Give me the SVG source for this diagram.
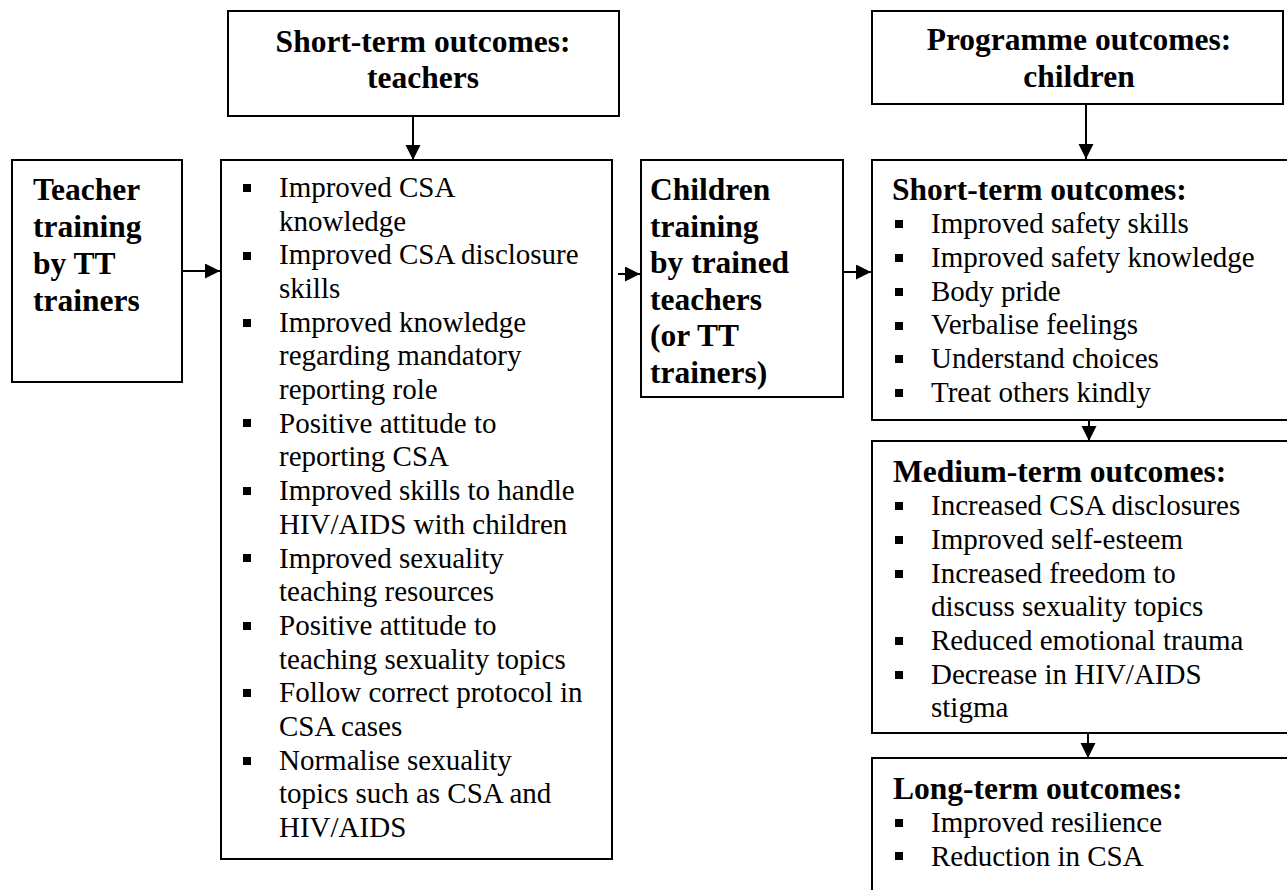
<svg xmlns="http://www.w3.org/2000/svg" width="1287" height="890" viewBox="0 0 1287 890">
<defs>
<style>
.box{fill:#fff;stroke:#000;stroke-width:2}
.h{font-family:"Liberation Serif","Times New Roman",serif;font-weight:bold;font-size:31.5px;fill:#000}
.b{font-family:"Liberation Serif","Times New Roman",serif;font-size:29px;fill:#000}
.c{text-anchor:middle}
.bul{fill:#000}
.con{stroke:#000;stroke-width:2;fill:none;marker-end:url(#ah)}
</style>
<marker id="ah" markerUnits="userSpaceOnUse" markerWidth="16" markerHeight="16" refX="15" refY="7.5" orient="auto">
<path d="M0,0 L15,7.5 L0,15 z" fill="#000"/>
</marker>
</defs>
<rect width="1287" height="890" fill="#fff"/>

<g id="connectors">
<line class="con" x1="182" y1="271" x2="220" y2="271"/>
<line class="con" x1="618" y1="274" x2="640" y2="274"/>
<line class="con" x1="843" y1="272" x2="871" y2="272"/>
<line class="con" x1="413" y1="116" x2="413" y2="160"/>
<line class="con" x1="1086" y1="104" x2="1086" y2="159"/>
<line class="con" x1="1089" y1="420" x2="1089" y2="441"/>
<line class="con" x1="1088" y1="733" x2="1088" y2="758"/>
</g>

<g id="teacher-training">
<rect class="box" x="12" y="160" width="170" height="222"/>
<text class="h" x="33" y="200">Teacher</text>
<text class="h" x="33" y="237">training</text>
<text class="h" x="33" y="274">by TT</text>
<text class="h" x="33" y="311">trainers</text>
</g>

<g id="short-term-teachers-header">
<rect class="box" x="228" y="11" width="391" height="105"/>
<text class="h c" x="423" y="52">Short-term outcomes:</text>
<text class="h c" x="423" y="88">teachers</text>
</g>

<g id="teacher-outcomes">
<rect class="box" x="221" y="160" width="391" height="699"/>
<g class="bul">
<rect x="243" y="184" width="8" height="8"/>
<rect x="243" y="252" width="8" height="8"/>
<rect x="243" y="319" width="8" height="8"/>
<rect x="243" y="419" width="8" height="8"/>
<rect x="243" y="487" width="8" height="8"/>
<rect x="243" y="554" width="8" height="8"/>
<rect x="243" y="622" width="8" height="8"/>
<rect x="243" y="689" width="8" height="8"/>
<rect x="243" y="757" width="8" height="8"/>
</g>
<text class="b" x="279">
<tspan x="279" y="197">Improved CSA</tspan>
<tspan x="279" y="230.7">knowledge</tspan>
<tspan x="279" y="264.4">Improved CSA disclosure</tspan>
<tspan x="279" y="298.1">skills</tspan>
<tspan x="279" y="331.7">Improved knowledge</tspan>
<tspan x="279" y="365.4">regarding mandatory</tspan>
<tspan x="279" y="399.1">reporting role</tspan>
<tspan x="279" y="432.8">Positive attitude to</tspan>
<tspan x="279" y="466.4">reporting CSA</tspan>
<tspan x="279" y="500.1">Improved skills to handle</tspan>
<tspan x="279" y="533.8">HIV/AIDS with children</tspan>
<tspan x="279" y="567.5">Improved sexuality</tspan>
<tspan x="279" y="601.2">teaching resources</tspan>
<tspan x="279" y="634.8">Positive attitude to</tspan>
<tspan x="279" y="668.5">teaching sexuality topics</tspan>
<tspan x="279" y="702.2">Follow correct protocol in</tspan>
<tspan x="279" y="735.9">CSA cases</tspan>
<tspan x="279" y="769.6">Normalise sexuality</tspan>
<tspan x="279" y="803.3">topics such as CSA and</tspan>
<tspan x="279" y="837">HIV/AIDS</tspan>
</text>
</g>

<g id="children-training">
<rect class="box" x="641" y="160" width="202" height="237"/>
<text class="h" x="650" y="200">Children</text>
<text class="h" x="650" y="236.5">training</text>
<text class="h" x="650" y="273">by trained</text>
<text class="h" x="650" y="309.5">teachers</text>
<text class="h" x="650" y="346">(or TT</text>
<text class="h" x="650" y="382.5">trainers)</text>
</g>

<g id="programme-outcomes-header">
<rect class="box" x="872" y="11" width="411" height="93"/>
<text class="h c" x="1079" y="50">Programme outcomes:</text>
<text class="h c" x="1079" y="87">children</text>
</g>

<g id="short-term-children">
<rect class="box" x="872" y="160" width="416" height="260"/>
<text class="h" x="892" y="199.5">Short-term outcomes:</text>
<g class="bul">
<rect x="895" y="220" width="8" height="8"/>
<rect x="895" y="254" width="8" height="8"/>
<rect x="895" y="288" width="8" height="8"/>
<rect x="895" y="322" width="8" height="8"/>
<rect x="895" y="355" width="8" height="8"/>
<rect x="895" y="389" width="8" height="8"/>
</g>
<text class="b">
<tspan x="931" y="233.3">Improved safety skills</tspan>
<tspan x="931" y="267">Improved safety knowledge</tspan>
<tspan x="931" y="300.7">Body pride</tspan>
<tspan x="931" y="334.4">Verbalise feelings</tspan>
<tspan x="931" y="368.1">Understand choices</tspan>
<tspan x="931" y="401.8">Treat others kindly</tspan>
</text>
</g>

<g id="medium-term-children">
<rect class="box" x="872" y="441" width="416" height="292"/>
<text class="h" x="893" y="481.5">Medium-term outcomes:</text>
<g class="bul">
<rect x="895" y="502" width="8" height="8"/>
<rect x="895" y="536" width="8" height="8"/>
<rect x="895" y="570" width="8" height="8"/>
<rect x="895" y="637" width="8" height="8"/>
<rect x="895" y="671" width="8" height="8"/>
</g>
<text class="b">
<tspan x="931" y="515.2">Increased CSA disclosures</tspan>
<tspan x="931" y="548.9">Improved self-esteem</tspan>
<tspan x="931" y="582.6">Increased freedom to</tspan>
<tspan x="931" y="616.3">discuss sexuality topics</tspan>
<tspan x="931" y="650">Reduced emotional trauma</tspan>
<tspan x="931" y="683.7">Decrease in HIV/AIDS</tspan>
<tspan x="931" y="717.4">stigma</tspan>
</text>
</g>

<g id="long-term-children">
<rect class="box" x="872" y="758" width="416" height="140"/>
<text class="h" x="893" y="798.5">Long-term outcomes:</text>
<g class="bul">
<rect x="895" y="819" width="8" height="8"/>
<rect x="895" y="852" width="8" height="8"/>
</g>
<text class="b">
<tspan x="931" y="832">Improved resilience</tspan>
<tspan x="931" y="865.5">Reduction in CSA</tspan>
</text>
</g>
</svg>
